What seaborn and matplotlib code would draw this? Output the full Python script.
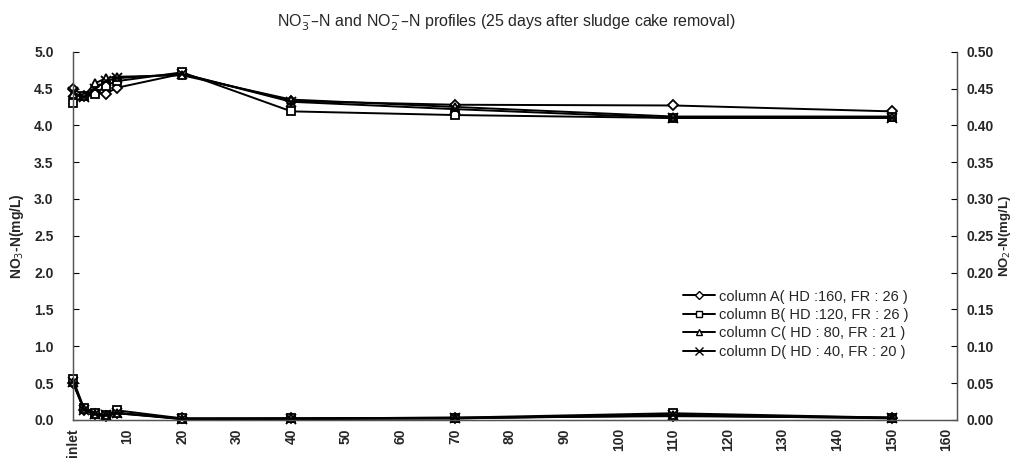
import matplotlib
matplotlib.use("Agg")
import matplotlib.pyplot as plt
import pandas as pd
import seaborn as sns
from matplotlib.lines import Line2D

# distance from inlet (0 = inlet)
distance = [0, 2, 4, 6, 8, 20, 40, 70, 110, 150]
columns = ["column A( HD :160, FR : 26 )", "column B( HD :120, FR : 26 )",
           "column C( HD : 80, FR : 21 )", "column D( HD : 40, FR : 20 )"]

no3_a = [4.50, 4.40, 4.45, 4.43, 4.51, 4.70, 4.33, 4.28, 4.27, 4.19]
no3_b = [4.30, 4.40, 4.42, 4.54, 4.60, 4.72, 4.19, 4.14, 4.10, 4.11]
no3_c = [4.42, 4.40, 4.57, 4.64, 4.66, 4.68, 4.35, 4.25, 4.12, 4.12]
no3_d = [4.45, 4.38, 4.50, 4.60, 4.64, 4.70, 4.32, 4.22, 4.10, 4.10]

no2_a = [0.050, 0.014, 0.008, 0.005, 0.009, 0.002, 0.002, 0.003, 0.005, 0.003]
no2_b = [0.055, 0.016, 0.009, 0.007, 0.013, 0.002, 0.002, 0.003, 0.009, 0.003]
no2_c = [0.052, 0.015, 0.008, 0.006, 0.010, 0.001, 0.002, 0.002, 0.007, 0.003]
no2_d = [0.051, 0.014, 0.008, 0.006, 0.009, 0.001, 0.001, 0.002, 0.006, 0.002]

x_ticks = list(range(0, 161, 10))
x_labels = ["inlet"] + [str(t) for t in x_ticks[1:]]


def long_df(series):
    rows = []
    for name, vals in zip(columns, series):
        for d, v in zip(distance, vals):
            rows.append({"distance": d, "value": v, "column": name})
    return pd.DataFrame(rows)


no3_df = long_df([no3_a, no3_b, no3_c, no3_d])
no2_df = long_df([no2_a, no2_b, no2_c, no2_d])

sns.set_theme(style="white")
plt.rcParams["font.family"] = ["Liberation Sans", "DejaVu Sans"]
plt.rcParams["xtick.direction"] = "in"
plt.rcParams["ytick.direction"] = "in"

marker_map = dict(zip(columns, ["D", "s", "^", "x"]))
size_map = {"D": 5, "s": 6, "^": 6, "x": 7}

fig, ax = plt.subplots(figsize=(10.14, 4.66), dpi=100)
fig.subplots_adjust(left=0.072, right=0.944, top=0.889, bottom=0.099)
ax2 = ax.twinx()

for axis, df in [(ax, no3_df), (ax2, no2_df)]:
    for name in columns:
        sub = df[df["column"] == name]
        m = marker_map[name]
        sns.lineplot(data=sub, x="distance", y="value", ax=axis, color="black",
                     linewidth=1.4, marker=m, markersize=size_map[m],
                     markerfacecolor="white" if m != "x" else "black",
                     markeredgecolor="black", markeredgewidth=1.3,
                     clip_on=False, legend=False)

ax.set_xlim(0, 162)
ax.set_ylim(0, 5.0)
ax2.set_ylim(0, 0.5)
ax.set_xticks(x_ticks)
ax.set_xticklabels(x_labels, rotation=90, fontsize=10, fontweight="bold")
ax.set_yticks([i * 0.5 for i in range(11)])
ax.set_yticklabels([f"{i * 0.5:.1f}" for i in range(11)], fontsize=10, fontweight="bold")
ax2.set_yticks([i * 0.05 for i in range(11)])
ax2.set_yticklabels([f"{i * 0.05:.2f}" for i in range(11)], fontsize=10, fontweight="bold")
ax.tick_params(axis="both", length=4, width=0.8, color="black", pad=6)
ax.tick_params(axis="y", pad=14)
ax2.tick_params(axis="y", length=4, width=0.8, color="black", pad=7)

ax.set_xlabel("")
ax.set_ylabel("NO$_3$-N(mg/L)", fontsize=10, fontweight="bold", labelpad=6)
ax2.set_ylabel("NO$_2$-N(mg/L)", fontsize=9.5, fontweight="bold", labelpad=2)

for a in (ax, ax2):
    a.spines["top"].set_visible(False)
    for s in ("left", "right", "bottom"):
        a.spines[s].set_color("#555555")
        a.spines[s].set_linewidth(0.9)

ax.set_title("NO$_3^{-}$\u2013N and NO$_2^{-}$\u2013N profiles (25 days after sludge cake removal)",
             fontsize=11.5, pad=18, x=0.49,
             family=["Liberation Sans Narrow", "Liberation Sans", "DejaVu Sans"])

handles = [Line2D([0], [0], color="black", linewidth=1.4, marker=marker_map[n],
                  markersize=size_map[marker_map[n]] - 1,
                  markerfacecolor="white" if marker_map[n] != "x" else "black",
                  markeredgecolor="black") for n in columns]
ax2.legend(handles, columns, loc="center right", bbox_to_anchor=(0.945, 0.26),
           frameon=False, fontsize=10.5, handlelength=2.2, handletextpad=0.3,
           labelspacing=0.3, borderaxespad=0, borderpad=0)

fig.savefig("out.png", dpi=100)
